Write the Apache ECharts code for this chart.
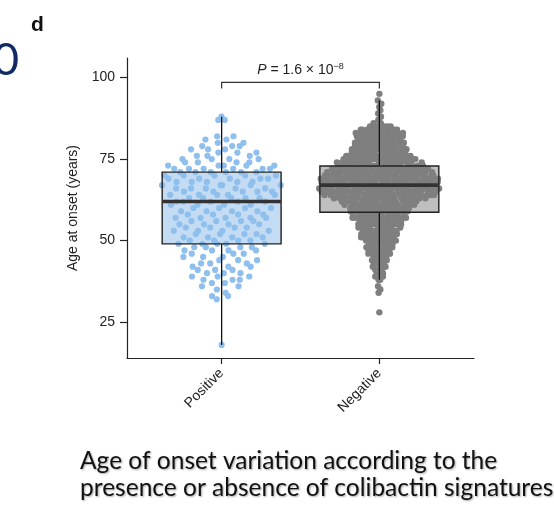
<!DOCTYPE html>
<html><head><meta charset="utf-8">
<script src="https://cdn.jsdelivr.net/npm/echarts@6/dist/echarts.min.js"></script>
<style>html,body{margin:0;padding:0;background:#fff}#c{width:554px;height:505px}</style>
</head><body><div id="c"></div>
<script>
// ---- data ----
const categories = ['Positive', 'Negative'];
const yTicks = [25, 50, 75, 100];

// Colibactin-positive: ages at onset and number of patients at each age
const posAges   = [88,87,82,81,80,79,78,77,76,75,74,73,72,71,70,69,68,67,66,65,64,63,62,61,60,59,58,57,56,55,54,53,52,51,50,49,48,47,46,45,44,43,42,41,40,39,38,37,36,35,34,33,32,18];
const posCounts = [ 1, 2, 2, 2, 2, 3, 3, 3, 3, 4, 4, 5, 6, 6, 5, 5, 5, 5, 5, 5, 5, 5, 5, 4, 4, 4, 4, 5, 4, 4, 4, 4, 4, 4, 4, 5, 4, 4, 3, 3, 3, 3, 3, 3, 3, 3, 3, 2, 2, 1, 1, 2, 1, 1];

// Colibactin-negative
const negAges   = [95,93,92,91,90,89,88,87,86,85,84,83,82,81,80,79,78,77,76,75,74,73,72,71,70,69,68,67,66,65,64,63,62,61,60,59,58,57,56,55,54,53,52,51,50,49,48,47,46,45,44,43,42,41,40,39,38,36,35,34,28];
const negCounts = [ 1, 1, 1, 1, 1, 1, 1, 1, 2, 7,10,12,12,12,12,12,13,14,16,18,20,22,24,25,27,28,29,29,29,29,27,22,19,16,15,14,13,13,12,11,10,10, 9, 9, 8, 7, 7, 6, 5, 5, 4, 4, 3, 3, 3, 2, 2, 1, 1, 1, 1];

// box statistics: [lower whisker, Q1, median, Q3, upper whisker]
const posBox = [18, 49, 62, 71, 88];
const negBox = [38, 58.7, 67, 72.9, 93];

const pValueText = '{i|P} = 1.6 × 10{s|−8}';
const captionLines = ['Age of onset variation according to the', 'presence or absence of colibactin signatures'];

// ---- styling ----
const dotColors  = ['#8fbfec', '#7f7f7f'];
const fillColors = ['#c4dcf3', '#bfbfbf'];
const BOX_HALF = 0.377;   // half box width (x units)
const SPREAD   = 0.39;    // max half spread of dots (x units)
const FONT = 'Liberation Sans, Arial, sans-serif';

function vdc(n) { let v = 0, d = 1; while (n > 0) { d *= 2; v += (n % 2) / d; n = Math.floor(n / 2); } return v; }
function quasi(ages, counts, center, bw) {
  const vals = [];
  ages.forEach((a, i) => { for (let k = 0; k < counts[i]; k++) vals.push(a); });
  vals.sort((a, b) => a - b);
  const dens = {}; let maxD = 0;
  ages.forEach(a => {
    let s = 0; vals.forEach(u => { s += Math.exp(-0.5 * ((a - u) / bw) ** 2); });
    dens[a] = s; if (s > maxD) maxD = s;
  });
  return vals.map((v, i) => [center + (vdc(i + 1) - 0.5) * 2 * SPREAD * dens[v] / maxD, v]);
}
const posPoints = quasi(posAges, posCounts, 1, 2.5);
const negPoints = quasi(negAges, negCounts, 2, 1.0);
const boxData = [[1].concat(posBox), [2].concat(negBox)];

function boxGeom(api) {
  const x = api.value(0);
  const v = [1, 2, 3, 4, 5].map(i => api.value(i));
  const tl = api.coord([x - BOX_HALF, v[3]]);
  const br = api.coord([x + BOX_HALF, v[1]]);
  const c = api.coord([x, v[2]]);
  const top = api.coord([x, v[4]]);
  const bot = api.coord([x, v[0]]);
  return { tl, br, c, top, bot };
}

const captionStyle = { font: '24.5px Lato', fill: '#111', verticalAlign: 'middle',
  textShadowColor: 'rgba(0,0,0,0.35)', textShadowBlur: 2, textShadowOffsetX: 1, textShadowOffsetY: 1 };

const chart = echarts.init(document.getElementById('c'), null, { renderer: 'canvas' });
chart.setOption({
  animation: false,
  grid: { left: 127, top: 58, width: 347, height: 300 },
  xAxis: {
    type: 'value', min: 0.4, max: 2.6,
    axisLine: { lineStyle: { color: '#222', width: 1.2 } },
    axisTick: { show: true, customValues: [1, 2], length: 6, lineStyle: { color: '#222', width: 1.2 } },
    axisLabel: { customValues: [1, 2], formatter: v => categories[Math.round(v) - 1], rotate: 45, margin: 13,
      fontFamily: FONT, fontSize: 14, color: '#222' },
    splitLine: { show: false }
  },
  yAxis: {
    type: 'value', min: 14, max: 106,
    name: 'Age at onset (years)', nameLocation: 'middle', nameGap: 47,
    nameTextStyle: { fontFamily: FONT, fontSize: 14, color: '#222' },
    axisLine: { show: true, lineStyle: { color: '#222', width: 1.2 } },
    axisTick: { show: true, customValues: yTicks, length: 7, lineStyle: { color: '#222', width: 1.2 } },
    axisLabel: { customValues: yTicks, margin: 12, fontFamily: FONT, fontSize: 14, color: '#222' },
    splitLine: { show: false }
  },
  series: [
    { type: 'custom', z: 1, silent: true, data: boxData,
      renderItem: (params, api) => {
        const g = boxGeom(api);
        return { type: 'rect', shape: { x: g.tl[0], y: g.tl[1], width: g.br[0] - g.tl[0], height: g.br[1] - g.tl[1] },
          style: { fill: fillColors[params.dataIndex] } };
      } },
    { type: 'scatter', z: 2, silent: true, data: posPoints, symbolSize: 6.2,
      itemStyle: { color: dotColors[0], opacity: 1 } },
    { type: 'scatter', z: 2, silent: true, data: negPoints, symbolSize: 6.4,
      itemStyle: { color: dotColors[1], opacity: 1 } },
    { type: 'custom', z: 3, silent: true, data: boxData,
      renderItem: (params, api) => {
        const g = boxGeom(api);
        return { type: 'group', children: [
          { type: 'line', shape: { x1: g.top[0], y1: g.top[1], x2: g.c[0], y2: g.tl[1] }, style: { stroke: '#111', lineWidth: 1.3 } },
          { type: 'line', shape: { x1: g.bot[0], y1: g.bot[1], x2: g.c[0], y2: g.br[1] }, style: { stroke: '#111', lineWidth: 1.3 } },
          { type: 'rect', shape: { x: g.tl[0], y: g.tl[1], width: g.br[0] - g.tl[0], height: g.br[1] - g.tl[1] },
            style: { fill: 'none', stroke: '#222', lineWidth: 1.4 } },
          { type: 'line', shape: { x1: g.tl[0], y1: g.c[1], x2: g.br[0], y2: g.c[1] }, style: { stroke: '#333', lineWidth: 3.6 } }
        ] };
      } },
    { type: 'custom', z: 4, silent: true, data: [[1, 2]],
      renderItem: (params, api) => {
        const a = api.coord([api.value(0), 98.5]);
        const b = api.coord([api.value(1), 98.5]);
        const drop = 6;
        return { type: 'group', children: [
          { type: 'polyline', shape: { points: [[a[0], a[1] + drop], [a[0], a[1]], [b[0], b[1]], [b[0], b[1] + drop]] },
            style: { fill: 'none', stroke: '#333', lineWidth: 1.2 } },
          { type: 'text', style: { x: (a[0] + b[0]) / 2, y: a[1] - 4, text: pValueText, align: 'center', verticalAlign: 'bottom',
              fontFamily: FONT, fontSize: 14, fill: '#222', lineHeight: 16,
              rich: { i: { fontStyle: 'italic', fontFamily: FONT, fontSize: 14, lineHeight: 16 },
                      s: { fontFamily: FONT, fontSize: 9, verticalAlign: 'top', lineHeight: 16 } } } }
        ] };
      } }
  ],
  graphic: [
    { type: 'text', x: 31, y: 25, style: { text: 'd', font: 'bold 21px Liberation Sans', fill: '#111', verticalAlign: 'middle' } },
    { type: 'text', x: 19, y: 60, style: { text: '0', font: '45px Lato', fill: '#102a66', align: 'right', verticalAlign: 'middle' } },
    { type: 'text', x: 80, y: 461, style: Object.assign({ text: captionLines[0] }, captionStyle) },
    { type: 'text', x: 80, y: 488.5, style: Object.assign({ text: captionLines[1] }, captionStyle) }
  ]
});
</script>
</body></html>
